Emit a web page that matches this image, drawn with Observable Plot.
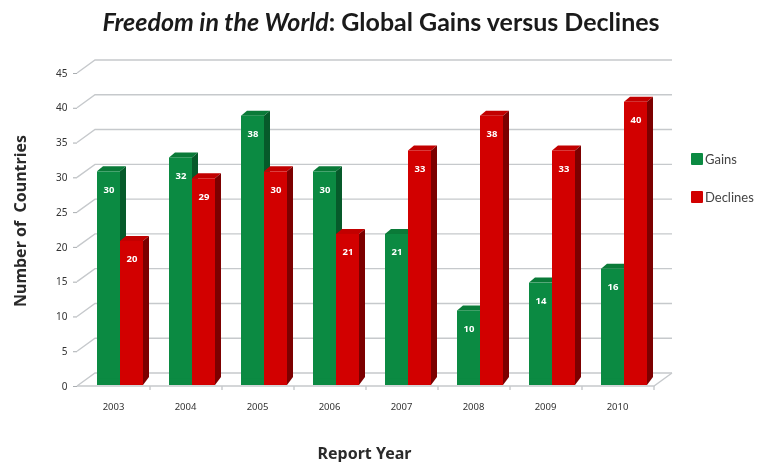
<!DOCTYPE html>
<html><head><meta charset="utf-8">
<script src="https://cdn.jsdelivr.net/npm/d3@7"></script>
<script src="https://cdn.jsdelivr.net/npm/@observablehq/plot@0.6"></script>
<style>
html,body{margin:0;padding:0;background:#fff;}
#wrap{position:relative;width:759px;height:462px;overflow:hidden;font-family:Lato,sans-serif;}
#title{position:absolute;left:0;width:759px;top:6px;padding-left:3px;box-sizing:border-box;text-align:center;font-size:25px;font-weight:700;color:#1a1a1a;white-space:nowrap;filter:blur(.3px);}
#chart svg{filter:blur(.55px);}
.lg{position:absolute;left:691px;font-size:13px;color:#444;line-height:12px;filter:blur(.4px);}
.lg i{position:absolute;left:0;top:0;width:12px;height:12px;border-radius:1px;}
.lg span{position:absolute;left:14px;top:0;}
</style></head><body>
<div id="wrap">
<div id="title"><em>Freedom in the World</em>: Global Gains versus Declines</div>
<div id="chart"></div>
<div class="lg" style="top:153px;"><i style="background:#0b8a42"></i><span>Gains</span></div>
<div class="lg" style="top:191px;"><i style="background:#d20000"></i><span>Declines</span></div>
</div>
<script>
const years = ["2003","2004","2005","2006","2007","2008","2009","2010"];
const gains = [30,32,38,30,21,10,14,16];
const declines = [20,29,30,21,33,38,33,40];
const yTicks = [0,5,10,15,20,25,30,35,40,45];

const rows = years.flatMap((year,i)=>[
  {year,series:"Gains",value:gains[i]},
  {year,series:"Declines",value:declines[i]}
]);
const face = {Gains:"#0b8a42",Declines:"#d20000"};
const cap  = {Gains:"#0a7a38",Declines:"#c20000"};
const side = {Gains:"#065a2a",Declines:"#7c0000"};

const lift = 6, depthX = 6, depthY = 5, half = 23;
const wallX = 18, wallY = 13;

function svgEl(name, attrs){
  const e = document.createElementNS("http://www.w3.org/2000/svg",name);
  for(const k in attrs) e.setAttribute(k,attrs[k]);
  return e;
}
// Back wall, floor and the slanted wall lines, positioned by the y and x scales
function walls(index,{x,y}){
  const g = svgEl("g",{fill:"none",stroke:"#c6c9cc","stroke-width":1.4});
  const x0 = 77, x1 = x(years[7]) + x.bandwidth() + 7;
  for(const t of yTicks){
    g.append(svgEl("path",{d:`M${x0},${y(t)}L${x0+wallX},${y(t)-wallY}L${x1+wallX},${y(t)-wallY}`}));
  }
  g.append(svgEl("path",{d:`M${x0},${y(0)}L${x1},${y(0)}L${x1+wallX},${y(0)-wallY}`}));
  for(const yr of years){
    const tx = x(yr) + x.bandwidth() + 7;
    g.append(svgEl("path",{d:`M${tx},${y(0)}v4`}));
  }
  return g;
}
// Side and top faces of each bar, positioned by the x and y scales
function depth(index,{x,y}){
  const g = svgEl("g",{});
  for(const d of rows){
    const l = x(d.year) + (d.series==="Gains"?0:half);
    const r = l + half, t = y(d.value) - lift, b = y(0) - 1;
    g.append(svgEl("path",{fill:cap[d.series],
      d:`M${l},${t}L${l+depthX},${t-depthY}L${r+depthX},${t-depthY}L${r},${t}Z`}));
    g.append(svgEl("path",{fill:side[d.series],
      d:`M${r},${t}L${r+depthX},${t-depthY}L${r+depthX},${b-depthY-3}L${r},${b}Z`}));
  }
  return g;
}
const baseFill = d => face[d.series];
const isGain = d => d.series==="Gains";
const isDecline = d => d.series==="Declines";
const labelStyle = {x:"year",y:"value",text:"value",fill:"#fff",fontWeight:700,fontSize:9.5,dy:12};

const chart = Plot.plot({
  width:759, height:462,
  marginTop:73, marginBottom:76, marginLeft:77, marginRight:108,
  style:{background:"transparent"},
  x:{type:"band",domain:years,range:[84,660],paddingInner:0.361,paddingOuter:0.18},
  y:{domain:[0,45],range:[386,73]},
  marks:[
    walls,
    depth,
    Plot.barY(rows,{x:"year",y:"value",fill:baseFill,dy:-lift,filter:isGain,insetRight:half}),
    Plot.barY(rows,{x:"year",y:"value",fill:baseFill,dy:-lift,filter:isDecline,insetLeft:half}),
    Plot.barY(rows,{x:"year",y:()=>1,fill:baseFill,dy:-1,filter:isGain,insetRight:half}),
    Plot.barY(rows,{x:"year",y:()=>1,fill:baseFill,dy:-1,filter:isDecline,insetLeft:half}),
    Plot.text(rows,{...labelStyle,dx:-half/2,filter:isGain}),
    Plot.text(rows,{...labelStyle,dx:half/2,filter:isDecline}),
    Plot.axisY({ticks:yTicks,tickSize:4,tickPadding:6,fontSize:10,color:"#333",stroke:"#a9adb1",label:null}),
    Plot.axisX({tickSize:0,tickPadding:17,fontSize:9.5,color:"#333",dx:-7,
      label:"Report Year",labelAnchor:"center",labelArrow:"none",labelOffset:72}),
    Plot.text(["Number of  Countries"],{frameAnchor:"left",textAnchor:"middle",rotate:-90,dx:-57,dy:-9,fontSize:16,fontWeight:700,fill:"#2a2a2a"})
  ]
});
document.getElementById("chart").append(chart);
chart.querySelectorAll('[aria-label="x-axis label"] text').forEach(t=>{
  t.style.fontSize="16px";t.style.fontWeight="700";t.style.fill="#2a2a2a";
});
</script>
</body></html>
